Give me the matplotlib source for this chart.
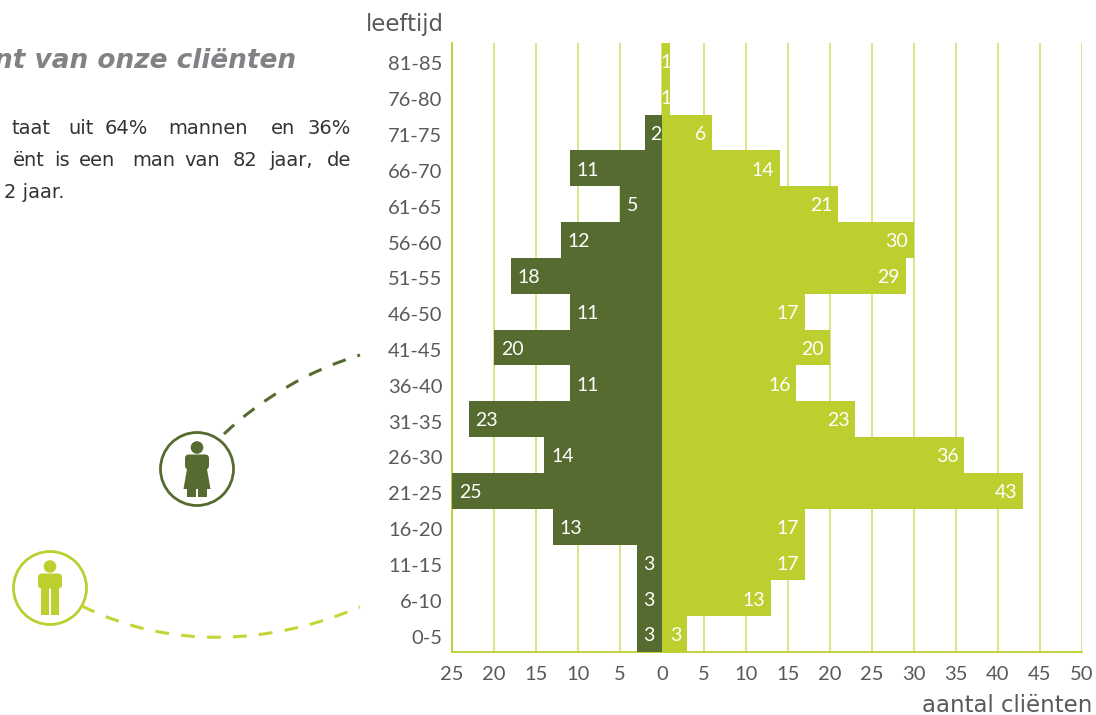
import matplotlib
matplotlib.use("Agg")
from matplotlib import pyplot as plt
from matplotlib.patches import Circle, PathPatch, Polygon, Rectangle, FancyBboxPatch
from matplotlib.path import Path
from matplotlib.transforms import ScaledTranslation

plt.rcParams['font.family'] = ['Lato', 'DejaVu Sans']

leeftijd = ['0-5', '6-10', '11-15', '16-20', '21-25', '26-30', '31-35', '36-40', '41-45',
            '46-50', '51-55', '56-60', '61-65', '66-70', '71-75', '76-80', '81-85']
vrouwen = [3, 3, 3, 13, 25, 14, 23, 11, 20, 11, 18, 12, 5, 11, 2, 0, 0]
mannen = [3, 13, 17, 17, 43, 36, 23, 16, 20, 17, 29, 30, 21, 14, 6, 1, 1]
ticks_links = [25, 20, 15, 10, 5]
ticks_rechts = [0, 5, 10, 15, 20, 25, 30, 35, 40, 45, 50]

donker = '#556b2f'
licht = '#bdce2f'
raster = '#d9e07f'
grijs = '#58595b'

W, H = 1096, 715
fig = plt.figure(figsize=(W / 100, H / 100), dpi=100)

# laag in pixels voor tekst en figuurtjes
bg = fig.add_axes([0, 0, 1, 1])
bg.set_xlim(0, W)
bg.set_ylim(H, 0)
bg.axis('off')

ax = fig.add_axes([452 / W, 1 - 652 / H, 630 / W, 609 / H])
ax.set_xlim(-25, 50)
ax.set_ylim(-0.5, 16.5)
ax.set_axisbelow(True)
ax.barh(range(len(leeftijd)), [-v for v in vrouwen], height=1, color=donker, zorder=3)
ax.barh(range(len(leeftijd)), mannen, height=1, color=licht, zorder=3)

for t in [-v for v in ticks_links] + ticks_rechts:
    ax.axvline(t, color=raster, lw=1.3, zorder=1)

for s in ['top', 'right']:
    ax.spines[s].set_visible(False)
for s in ['left', 'bottom']:
    ax.spines[s].set_color(licht)
    ax.spines[s].set_linewidth(1.3)

ax.set_xticks([-v for v in ticks_links] + ticks_rechts)
ax.set_xticklabels(ticks_links + ticks_rechts, fontsize=14.5, color=grijs)
ax.set_yticks(range(len(leeftijd)))
ax.set_yticklabels(leeftijd, fontsize=14.5, color=grijs)
ax.tick_params(axis='both', length=0)
ax.tick_params(axis='x', pad=10)
ax.tick_params(axis='y', pad=7)

# labels op de y-as staan iets lager dan het midden van de balk
omlaag = ScaledTranslation(0, -2.5 / 100, fig.dpi_scale_trans)
for lab in ax.get_yticklabels():
    lab.set_transform(lab.get_transform() + omlaag)

for i in range(len(leeftijd)):
    v = vrouwen[i]
    m = mannen[i]
    if v > 0:
        marge = 0.6 if v == 2 else 0.8
        ax.text(-v + marge, i - 0.05, str(v), color='white', fontsize=14, ha='left', va='center', zorder=4)
    if m > 1:
        ax.text(m - 0.7, i - 0.05, str(m), color='white', fontsize=14, ha='right', va='center', zorder=4)
    else:
        ax.text(m - 0.5, i - 0.05, str(m), color='white', fontsize=14, ha='center', va='center', zorder=4)

bg.text(444, 24, 'leeftijd', fontsize=16.5, color=grijs, ha='right', va='center', family='DejaVu Sans')
bg.text(1092, 706, 'aantal cliënten', fontsize=16.5, color=grijs, ha='right', va='center', family='DejaVu Sans')

bg.text(296, 61, 'nt van onze cliënten', fontsize=19, color='#808285', ha='right', va='center',
        style='italic', weight='bold', family='DejaVu Sans')

# uitgevulde tekst, woord voor woord
regel1 = [('taat', 50), ('uit', 94), ('64%', 148), ('mannen', 248), ('en', 295), ('36%', 351)]
regel2 = [('ënt', 45), ('is', 70), ('een', 115), ('man', 175), ('van', 220), ('82', 257), ('jaar,', 313), ('de', 351)]
for woord, x in regel1:
    bg.text(x, 129, woord, fontsize=14, color='#333333', ha='right', va='center', family='DejaVu Sans')
for woord, x in regel2:
    bg.text(x, 160, woord, fontsize=14, color='#333333', ha='right', va='center', family='DejaVu Sans')
bg.text(65, 193, '2 jaar.', fontsize=14, color='#333333', ha='right', va='center', family='DejaVu Sans')


def poppetje(cx, cy, kleur, jurk):
    bg.add_patch(Circle((cx, cy), 36.5, fill=False, ec=kleur, lw=2))
    bg.add_patch(Circle((cx, cy - 21.5), 6.3, color=kleur, lw=0))
    bg.add_patch(FancyBboxPatch((cx - 12, cy - 14.5), 24, 15, boxstyle='round,pad=0,rounding_size=4', fc=kleur, ec=kleur, lw=0))
    if jurk:
        bg.add_patch(Polygon([(cx - 10, cy), (cx + 10, cy), (cx + 13.5, cy + 20), (cx - 13.5, cy + 20)], color=kleur, lw=0))
        bg.add_patch(Rectangle((cx - 10, cy + 20), 9.4, 8, color=kleur, lw=0))
        bg.add_patch(Rectangle((cx + 0.6, cy + 20), 9.4, 8, color=kleur, lw=0))
    else:
        bg.add_patch(Rectangle((cx - 9, cy - 4), 8.4, 31, color=kleur, lw=0))
        bg.add_patch(Rectangle((cx + 0.6, cy - 4), 8.4, 31, color=kleur, lw=0))


poppetje(197, 469, donker, True)
poppetje(50, 588, licht, False)

lijn1 = Path([(224, 434), (262, 398), (310, 370), (360, 355)], [Path.MOVETO, Path.CURVE4, Path.CURVE4, Path.CURVE4])
lijn2 = Path([(82, 606), (170, 650), (270, 645), (360, 607)], [Path.MOVETO, Path.CURVE4, Path.CURVE4, Path.CURVE4])
bg.add_patch(PathPatch(lijn1, fill=False, ec=donker, lw=2.2, ls=(0, (4.5, 4))))
bg.add_patch(PathPatch(lijn2, fill=False, ec='#c5d436', lw=2.2, ls=(0, (4.5, 4))))

plt.savefig('out.png', dpi=100)
